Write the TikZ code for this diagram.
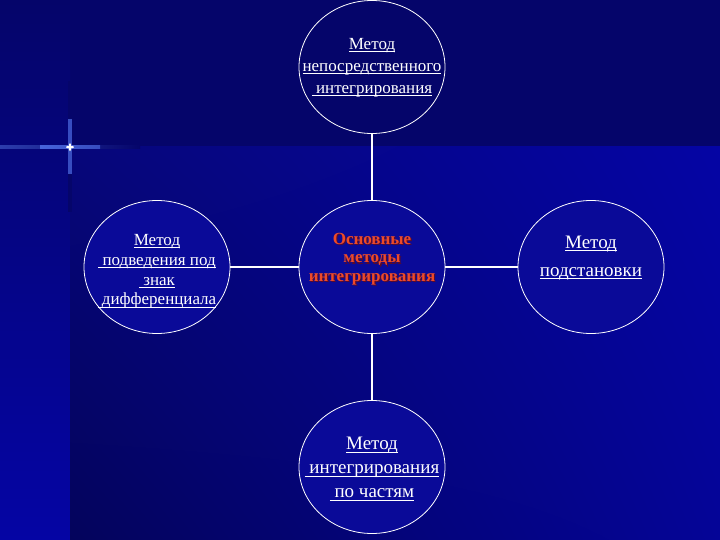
\documentclass[tikz,border=0pt]{standalone}
\usepackage{fontspec}
\setmainfont{Liberation Serif}
\usetikzlibrary{shapes.geometric,shadings}
\newcommand\myul[1]{\leavevmode\setbox0\hbox{#1}\rlap{\rule[-2.6pt]{\wd0}{0.9pt}}\box0}
\definecolor{bgdark}{HTML}{05056A}
\definecolor{bgdeep}{HTML}{04045C}
\definecolor{bgbright}{HTML}{0505A4}
\definecolor{bgmid}{HTML}{06067A}
\definecolor{spark}{HTML}{5C82FF}
\definecolor{circfill}{HTML}{0A0A98}
\definecolor{redtxt}{HTML}{EE4A28}
\definecolor{redshadow}{HTML}{5A0A2A}
\tikzset{
  circ/.style={ellipse, draw=white, line width=0.8pt, minimum width=146, minimum height=133, inner sep=0pt},
  conn/.style={draw=white, line width=2pt},
  txt/.style={text=white, align=center, inner sep=0pt}
}
\begin{document}
\begin{tikzpicture}[x=1pt,y=-1pt]
\useasboundingbox (0,0) rectangle (720,540);
% background
\fill[bgdark] (0,0) rectangle (720,540);
\shade[top color=bgdark, bottom color=bgbright] (0,0) rectangle (70,540);
\shade[upper left=bgmid, upper right=bgbright, lower left=bgdeep, lower right=bgbright!92!black] (70,147) rectangle (720,540);
% sparkle
\shade[left color=spark!45!bgdark, middle color=spark, right color=bgdark] (0,145.3) rectangle (140,149);
\shade[top color=bgdark, middle color=spark, bottom color=bgdark] (68.2,82) rectangle (71.8,212);
\shade[left color=spark!76!bgdark, middle color=white, right color=spark!57!bgdark] (40,145.3) rectangle (100,149);
\shade[top color=spark!58!bgdark, middle color=white, bottom color=spark!58!bgdark] (68.2,120) rectangle (71.8,174);
\fill[white] (70,147.1) ellipse (4 and 1.5);
\fill[white] (70,147.1) ellipse (1.2 and 4);
% circles
\node[circ] (top) at (372,67) {};
\node[circ, fill=circfill] (center) at (372,267) {};
\node[circ, fill=circfill] (left) at (157,267) {};
\node[circ, fill=circfill] (right) at (591,267) {};
\node[circ, fill=circfill] (bottom) at (372,467) {};
% connectors
\draw[conn] (top) -- (center);
\draw[conn] (center) -- (left);
\draw[conn] (center) -- (right);
\draw[conn] (center) -- (bottom);
% texts
\node[txt, font=\fontsize{17}{22}\selectfont] (topT) at (372,68) {\myul{Метод}\\\myul{непосредственного}\\\myul{~интегрирования}};
\node[txt, font=\fontsize{17}{19.7}\selectfont] (leftT) at (157,271.5) {\myul{Метод}\\\myul{~подведения под}\\\myul{~знак}\\\myul{~дифференциала}};
\node[txt, text=redshadow, font=\bfseries\fontsize{17}{18.8}\selectfont] (centerS) at (373.2,260.2) {Основные\\методы\\интегрирования};
\node[txt, text=redtxt, font=\bfseries\fontsize{17}{18.8}\selectfont] (centerT) at (372,259) {Основные\\методы\\интегрирования};
\node[txt, font=\fontsize{19}{28}\selectfont] (rightT) at (591,258) {\myul{Метод}\\\myul{подстановки}};
\node[txt, font=\fontsize{19}{24}\selectfont] (bottomT) at (372,469) {\myul{Метод}\\\myul{~интегрирования}\\\myul{~по частям}};
\end{tikzpicture}
\end{document}
